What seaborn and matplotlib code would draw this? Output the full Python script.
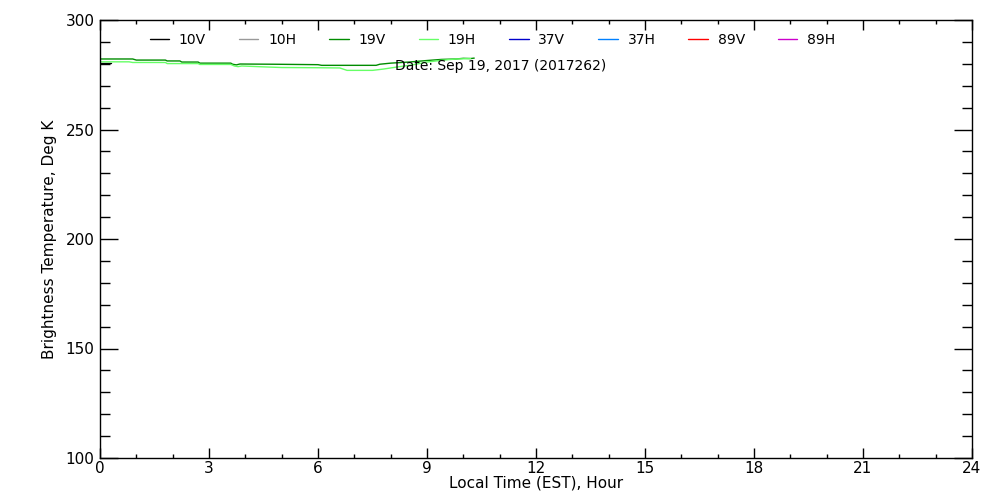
import pandas as pd
import matplotlib
matplotlib.use('Agg')
import matplotlib.pyplot as plt
from matplotlib.lines import Line2D
import seaborn as sns

# channel names and colours (legend order)
channels = ['10V', '10H', '19V', '19H', '37V', '37H', '89V', '89H']
colors = ['#000000', '#999999', '#008c00', '#66ff66', '#0000cc', '#0080ff', '#ff0000', '#cc00cc']

# data (hours, Kelvin)
hours_10v = [0.0, 0.3]
temp_10v = [280.3, 280.3]

hours_19v = [0.0, 0.9, 1.0, 1.8, 1.85, 2.2, 2.25, 2.7, 2.75, 3.6, 3.65, 3.75, 3.85,
             4.8, 6.0, 6.1, 7.6, 7.7, 8.0, 8.5, 9.0, 9.4, 9.8, 10.0, 10.2, 10.3]
temp_19v = [282.2, 282.2, 281.7, 281.7, 281.3, 281.3, 280.8, 280.8, 280.3, 280.3, 279.8, 279.5, 279.9,
            279.8, 279.6, 279.3, 279.3, 279.8, 280.3, 280.8, 281.5, 282.0, 282.2, 282.5, 282.4, 282.6]

hours_19h = [0.0, 0.8, 0.9, 1.8, 1.85, 2.7, 2.75, 3.6, 3.7, 3.8, 3.9, 4.5, 5.0, 6.0,
             6.6, 6.8, 7.5, 7.8, 8.2, 8.6, 9.0, 9.4, 9.8, 10.2]
temp_19h = [280.9, 280.9, 280.6, 280.6, 280.1, 280.1, 279.7, 279.7, 279.0, 278.7, 279.0, 278.6, 278.3, 278.2,
            278.1, 277.0, 277.0, 277.6, 278.6, 279.5, 280.8, 281.6, 282.2, 282.4]

date_label = 'Date: Sep 19, 2017 (2017262)'

df = pd.concat([
    pd.DataFrame({'hour': hours_10v, 'tb': temp_10v, 'channel': '10V'}),
    pd.DataFrame({'hour': hours_19v, 'tb': temp_19v, 'channel': '19V'}),
    pd.DataFrame({'hour': hours_19h, 'tb': temp_19h, 'channel': '19H'}),
])

sns.set_style('white')
plt.rcParams['font.family'] = ['DejaVu Sans']
plt.rcParams['text.color'] = 'black'
plt.rcParams['axes.labelcolor'] = 'black'
plt.rcParams['xtick.color'] = 'black'
plt.rcParams['ytick.color'] = 'black'

fig = plt.figure(figsize=(10, 5), dpi=100)
ax = fig.add_axes([0.1, 0.084, 0.872, 0.876])

palette = dict(zip(channels, colors))
sns.lineplot(data=df, x='hour', y='tb', hue='channel', palette=palette,
             estimator=None, sort=False, linewidth=1, legend=False, ax=ax)

ax.set_xlim(0, 24)
ax.set_ylim(100, 300)
ax.set_xticks(range(0, 25, 3))
ax.set_xticks(range(0, 25, 1), minor=True)
ax.set_yticks(range(100, 301, 50))
ax.set_yticks(range(100, 301, 10), minor=True)
ax.tick_params(axis='both', which='both', direction='in', top=True, right=True,
               bottom=True, left=True, labelsize=11, color='black', width=1)
ax.tick_params(axis='x', which='major', length=7.2, pad=2)
ax.tick_params(axis='x', which='minor', length=3)
ax.tick_params(axis='y', which='major', length=13, pad=4)
ax.tick_params(axis='y', which='minor', length=7)
for s in ax.spines.values():
    s.set_color('black')
    s.set_linewidth(1)

ax.set_xlabel('Local Time (EST), Hour', fontsize=11, labelpad=0)
ax.set_ylabel('Brightness Temperature, Deg K', fontsize=11, labelpad=6)

# legend along the top
handles = [Line2D([], [], color=c, linewidth=1) for c in colors]
ax.legend(handles, channels, ncol=8, frameon=False, fontsize=10,
          loc='center left', bbox_to_anchor=(0.057, 0.955),
          handlelength=1.4, handletextpad=0.7, columnspacing=2.38,
          borderaxespad=0, borderpad=0)

ax.text(0.338, 0.895, date_label, transform=ax.transAxes, fontsize=10,
        ha='left', va='center')

plt.savefig('out.png', dpi=100)
